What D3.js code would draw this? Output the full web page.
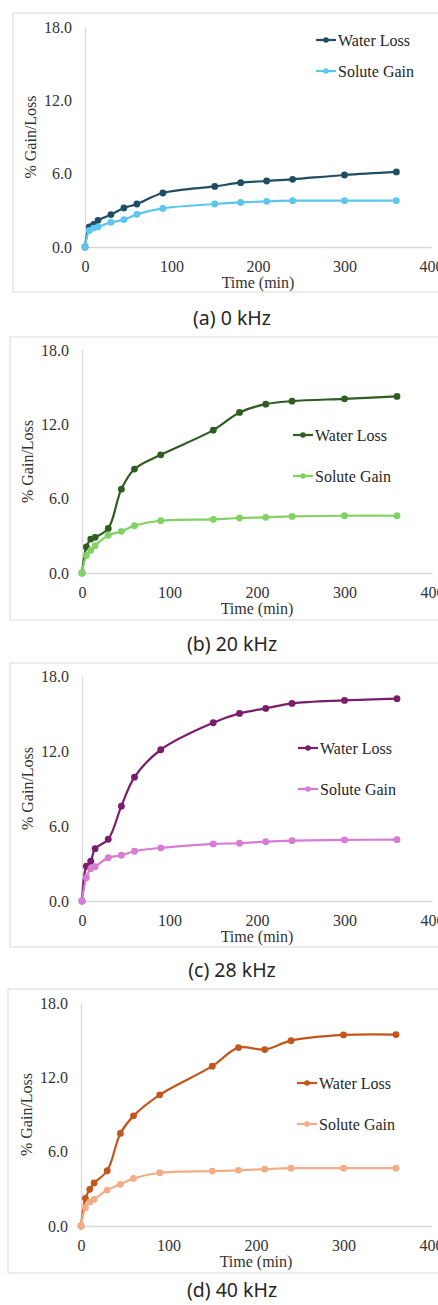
<!DOCTYPE html>
<html>
<head>
<meta charset="utf-8">
<script src="https://cdn.jsdelivr.net/npm/d3@7"></script>
<style>
  body { margin: 0; background: #fff; }
</style>
</head>
<body>
<script>
let w = 438;
let h = 1305;

// sampling times (min), same for every panel
const times = [0, 5, 10, 15, 30, 45, 60, 90, 150, 180, 210, 240, 300, 360];
const xTicks = [0, 100, 200, 300, 400];
const yTicks = [0, 6, 12, 18];
const captions = ["(a) 0 kHz", "(b) 20 kHz", "(c) 28 kHz", "(d) 40 kHz"];
const seriesNames = ["Water Loss", "Solute Gain"];

const waterLoss0  = [0, 1.64, 1.85, 2.18, 2.65, 3.19, 3.52, 4.42, 4.96, 5.26, 5.40, 5.54, 5.89, 6.14];
const soluteGain0 = [0, 1.36, 1.55, 1.64, 2.02, 2.24, 2.67, 3.16, 3.52, 3.65, 3.74, 3.79, 3.79, 3.79];

const waterLoss20  = [0, 2.10, 2.74, 2.88, 3.60, 6.77, 8.39, 9.54, 11.53, 12.96, 13.63, 13.87, 14.06, 14.25];
const soluteGain20 = [0, 1.42, 1.83, 2.20, 3.04, 3.36, 3.82, 4.22, 4.33, 4.44, 4.49, 4.57, 4.62, 4.62];

const waterLoss28  = [0, 2.78, 3.18, 4.19, 4.94, 7.59, 9.91, 12.10, 14.26, 15.01, 15.41, 15.81, 16.05, 16.19];
const soluteGain28 = [0, 1.87, 2.59, 2.75, 3.47, 3.66, 3.98, 4.25, 4.57, 4.62, 4.75, 4.83, 4.89, 4.91];

const waterLoss40  = [0, 2.23, 2.96, 3.47, 4.46, 7.47, 8.89, 10.59, 12.90, 14.40, 14.24, 14.96, 15.42, 15.45];
const soluteGain40 = [0, 1.48, 1.93, 2.15, 2.90, 3.36, 3.84, 4.30, 4.43, 4.49, 4.59, 4.67, 4.67, 4.67];

// layout of each panel (box, plot area, legend)
const panels = [
  {wl: waterLoss0, sg: soluteGain0, colors: ["#1f4e62", "#5cc6ef"],
   box: [13, 13, 279], plot: [85, 431, 27, 247], legend: [316, 40, 31]},
  {wl: waterLoss20, sg: soluteGain20, colors: ["#2f5c1f", "#80d262"],
   box: [10, 337, 283], plot: [82, 432, 350, 573], legend: [293, 435, 41]},
  {wl: waterLoss28, sg: soluteGain28, colors: ["#7a1d6c", "#d97ad5"],
   box: [10, 663, 284], plot: [82, 432, 676, 901], legend: [298, 748, 41]},
  {wl: waterLoss40, sg: soluteGain40, colors: ["#c4561b", "#f3ad86"],
   box: [8, 989, 284], plot: [81, 431, 1003, 1226], legend: [297, 1083, 41]}
];

const serif = "'Liberation Serif', 'Times New Roman', serif";
const textColor = "#333333";
const axisColor = "#d9d9d9";

let svg = d3.select("body")
            .append("svg")
            .attr("width", w)
            .attr("height", h);

panels.forEach((p, i) => {
    let [left, right, top, bottom] = p.plot;
    let x = d3.scaleLinear([0, 400], [left, right]);
    let y = d3.scaleLinear([0, 18], [bottom, top]);

    let g = svg.append("g");

    g.append("rect")
     .attr("x", p.box[0])
     .attr("y", p.box[1])
     .attr("width", 450)
     .attr("height", p.box[2])
     .attr("fill", "none")
     .attr("stroke", axisColor)
     .attr("stroke-width", 1);

    let xAxis = g.append("g")
                 .attr("transform", `translate(0, ${bottom})`)
                 .call(d3.axisBottom(x).tickValues(xTicks).tickSize(0).tickSizeOuter(0).tickPadding(13.5).tickFormat(d3.format("d")));
    let yAxis = g.append("g")
                 .attr("transform", `translate(${left}, 0)`)
                 .call(d3.axisLeft(y).tickValues(yTicks).tickSize(0).tickSizeOuter(0).tickPadding(13).tickFormat(d3.format(".1f")));

    [xAxis, yAxis].forEach(a => {
        a.attr("font-family", null);
        a.select(".domain").attr("stroke", axisColor).attr("stroke-width", 1.3);
        a.selectAll("text")
         .attr("fill", textColor)
         .style("font-family", serif)
         .style("font-size", "16px");
    });

    g.append("text")
     .attr("x", (left + right) / 2)
     .attr("y", bottom + 41)
     .attr("text-anchor", "middle")
     .attr("fill", textColor)
     .style("font-family", serif)
     .style("font-size", "16px")
     .text("Time (min)");

    g.append("text")
     .attr("transform", `translate(${left - 55}, ${(top + bottom) / 2}) rotate(-90)`)
     .attr("text-anchor", "middle")
     .attr("dy", "0.35em")
     .attr("fill", textColor)
     .style("font-family", serif)
     .style("font-size", "16px")
     .text("% Gain/Loss");

    let line = d3.line()
                 .x(d => x(d[0]))
                 .y(d => y(d[1]))
                 .curve(d3.curveCatmullRom.alpha(0.5));

    [p.wl, p.sg].forEach((vals, k) => {
        let pts = times.map((t, j) => [t, vals[j]]);
        g.append("path")
         .datum(pts)
         .attr("d", line)
         .attr("fill", "none")
         .attr("stroke", p.colors[k])
         .attr("stroke-width", 2.2);
        g.selectAll(null)
         .data(pts)
         .enter()
         .append("circle")
         .attr("cx", d => x(d[0]))
         .attr("cy", d => y(d[1]))
         .attr("r", 3.4)
         .attr("fill", p.colors[k]);
    });

    // legend
    let [lx, ly, gap] = p.legend;
    seriesNames.forEach((name, k) => {
        let cy = ly + k * gap;
        g.append("line")
         .attr("x1", lx).attr("x2", lx + 20)
         .attr("y1", cy).attr("y2", cy)
         .attr("stroke", p.colors[k])
         .attr("stroke-width", 2.2);
        g.append("circle")
         .attr("cx", lx + 10)
         .attr("cy", cy)
         .attr("r", 2.8)
         .attr("fill", p.colors[k]);
        g.append("text")
         .attr("x", lx + 22)
         .attr("y", cy)
         .attr("dy", "0.35em")
         .attr("fill", "#262626")
         .style("font-family", serif)
         .style("font-size", "16px")
         .text(name);
    });
});

// captions sit under each panel
const captionY = [325, 651, 977, 1297];
captions.forEach((c, i) => {
    svg.append("text")
       .attr("x", 232)
       .attr("y", captionY[i])
       .attr("text-anchor", "middle")
       .attr("fill", "#262626")
       .style("font-family", "'Noto Sans', 'Open Sans', sans-serif")
       .style("font-size", "19.5px")
       .text(c);
});
</script>
</body>
</html>
